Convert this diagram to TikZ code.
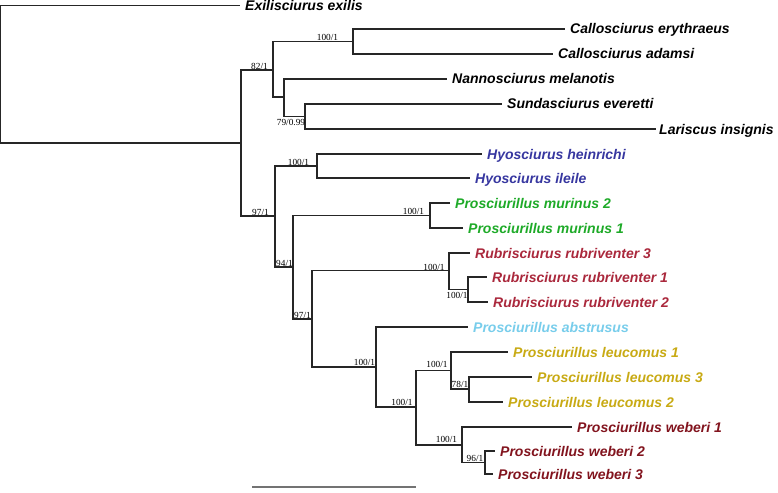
\documentclass[tikz,border=0pt]{standalone}
\usepackage{fontspec}
\setmainfont{Liberation Sans}
\newfontfamily\supfont{Liberation Serif}
\definecolor{hyoc}{RGB}{55,55,160}
\definecolor{murc}{RGB}{30,170,40}
\definecolor{rubc}{RGB}{170,40,60}
\definecolor{absc}{RGB}{120,205,235}
\definecolor{leuc}{RGB}{200,170,20}
\definecolor{webc}{RGB}{130,20,30}
\begin{document}
\begin{tikzpicture}[x=1pt,y=-1pt,
  edge/.style={line width=1.1pt, draw=black!85},
  leaf/.style={anchor=west, inner xsep=5pt, inner ysep=0pt, text height=10pt, text depth=0pt,
    font=\fontsize{14}{14}\selectfont\bfseries\itshape},
  sup/.style={inner sep=0pt, font=\supfont\fontsize{9.3}{9.3}\selectfont},
  scalebar/.style={line width=1.4pt, draw=black!55}]
\useasboundingbox (0,0) rectangle (778,492);
% leaves
\node[leaf] (exilis) at (240,5.5) {Exilisciurus exilis};
\node[leaf] (cery) at (565,29) {Callosciurus erythraeus};
\node[leaf] (cada) at (553,54) {Callosciurus adamsi};
\node[leaf] (nmel) at (447,79) {Nannosciurus melanotis};
\node[leaf] (seve) at (502,104) {Sundasciurus everetti};
\node[leaf, inner xsep=3pt] (lins) at (656,129) {Lariscus insignis};
\node[leaf, text=hyoc] (hhei) at (482,154) {Hyosciurus heinrichi};
\node[leaf, text=hyoc] (hile) at (470,178) {Hyosciurus ileile};
\node[leaf, text=murc] (pmu2) at (450,203) {Prosciurillus murinus 2};
\node[leaf, text=murc] (pmu1) at (463,228) {Prosciurillus murinus 1};
\node[leaf, text=rubc] (rr3) at (470,253) {Rubrisciurus rubriventer 3};
\node[leaf, text=rubc] (rr1) at (487,277) {Rubrisciurus rubriventer 1};
\node[leaf, text=rubc] (rr2) at (488,302) {Rubrisciurus rubriventer 2};
\node[leaf, text=absc] (pabs) at (468,327) {Prosciurillus abstrusus};
\node[leaf, text=leuc] (pl1) at (508,352) {Prosciurillus leucomus 1};
\node[leaf, text=leuc] (pl3) at (532,377) {Prosciurillus leucomus 3};
\node[leaf, text=leuc] (pl2) at (503,402) {Prosciurillus leucomus 2};
\node[leaf, text=webc] (pw1) at (572,427) {Prosciurillus weberi 1};
\node[leaf, text=webc] (pw2) at (495,451) {Prosciurillus weberi 2};
\node[leaf, text=webc] (pw3) at (493,474) {Prosciurillus weberi 3};
% internal nodes
\coordinate (root) at (0,74);
\coordinate (A) at (241,143);
\coordinate (c82) at (273,70);
\coordinate (c100a) at (353,41.5);
\coordinate (n284) at (284,97);
\coordinate (c79) at (305,116.5);
\coordinate (B) at (275,216);
\coordinate (hyo) at (317,166);
\coordinate (D) at (293,267);
\coordinate (mur) at (430,215.5);
\coordinate (E) at (312,319);
\coordinate (rub) at (449,270.5);
\coordinate (rubb) at (468,289.5);
\coordinate (F) at (376,367);
\coordinate (G) at (416,407);
\coordinate (leu) at (451,370.5);
\coordinate (leub) at (469,389);
\coordinate (web) at (462,445);
\coordinate (webb) at (485,462.5);
% edges
\draw[edge] (root) |- (exilis.west);
\draw[edge] (root) |- (A);
\draw[edge] (A) |- (c82);
\draw[edge] (A) |- (B);
\draw[edge] (c82) |- (c100a);
\draw[edge] (c82) |- (n284);
\draw[edge] (c100a) |- (cery.west);
\draw[edge] (c100a) |- (cada.west);
\draw[edge] (n284) |- (nmel.west);
\draw[edge] (n284) |- (c79);
\draw[edge] (c79) |- (seve.west);
\draw[edge] (c79) |- (lins.west);
\draw[edge] (B) |- (hyo);
\draw[edge] (B) |- (D);
\draw[edge] (hyo) |- (hhei.west);
\draw[edge] (hyo) |- (hile.west);
\draw[edge] (D) |- (mur);
\draw[edge] (D) |- (E);
\draw[edge] (mur) |- (pmu2.west);
\draw[edge] (mur) |- (pmu1.west);
\draw[edge] (E) |- (rub);
\draw[edge] (E) |- (F);
\draw[edge] (rub) |- (rr3.west);
\draw[edge] (rub) |- (rubb);
\draw[edge] (rubb) |- (rr1.west);
\draw[edge] (rubb) |- (rr2.west);
\draw[edge] (F) |- (pabs.west);
\draw[edge] (F) |- (G);
\draw[edge] (G) |- (leu);
\draw[edge] (G) |- (web);
\draw[edge] (leu) |- (pl1.west);
\draw[edge] (leu) |- (leub);
\draw[edge] (leub) |- (pl3.west);
\draw[edge] (leub) |- (pl2.west);
\draw[edge] (web) |- (pw1.west);
\draw[edge] (web) |- (webb);
\draw[edge] (webb) |- (pw2.west);
\draw[edge] (webb) |- (pw3.west);
% support values
\node[sup] (s1) at (327.5,37) {100/1};
\node[sup] (s2) at (259.5,66) {82/1};
\node[sup] (s3) at (291,122) {79/0.99};
\node[sup] (s4) at (298.5,162) {100/1};
\node[sup] (s5) at (260.5,212) {97/1};
\node[sup] (s6) at (413.5,211.5) {100/1};
\node[sup] (s7) at (284.5,263) {94/1};
\node[sup] (s8) at (434,267) {100/1};
\node[sup] (s9) at (457,295) {100/1};
\node[sup] (s10) at (302.5,315) {97/1};
\node[sup] (s11) at (364.5,362) {100/1};
\node[sup] (s12) at (402,402) {100/1};
\node[sup] (s13) at (437,364.5) {100/1};
\node[sup] (s14) at (460,384.5) {78/1};
\node[sup] (s15) at (446.5,439.5) {100/1};
\node[sup] (s16) at (475,458) {96/1};
% scale bar
\coordinate (sb1) at (252,487);
\coordinate (sb2) at (416,487);
\draw[scalebar] (sb1) -- (sb2);
\end{tikzpicture}
\end{document}
